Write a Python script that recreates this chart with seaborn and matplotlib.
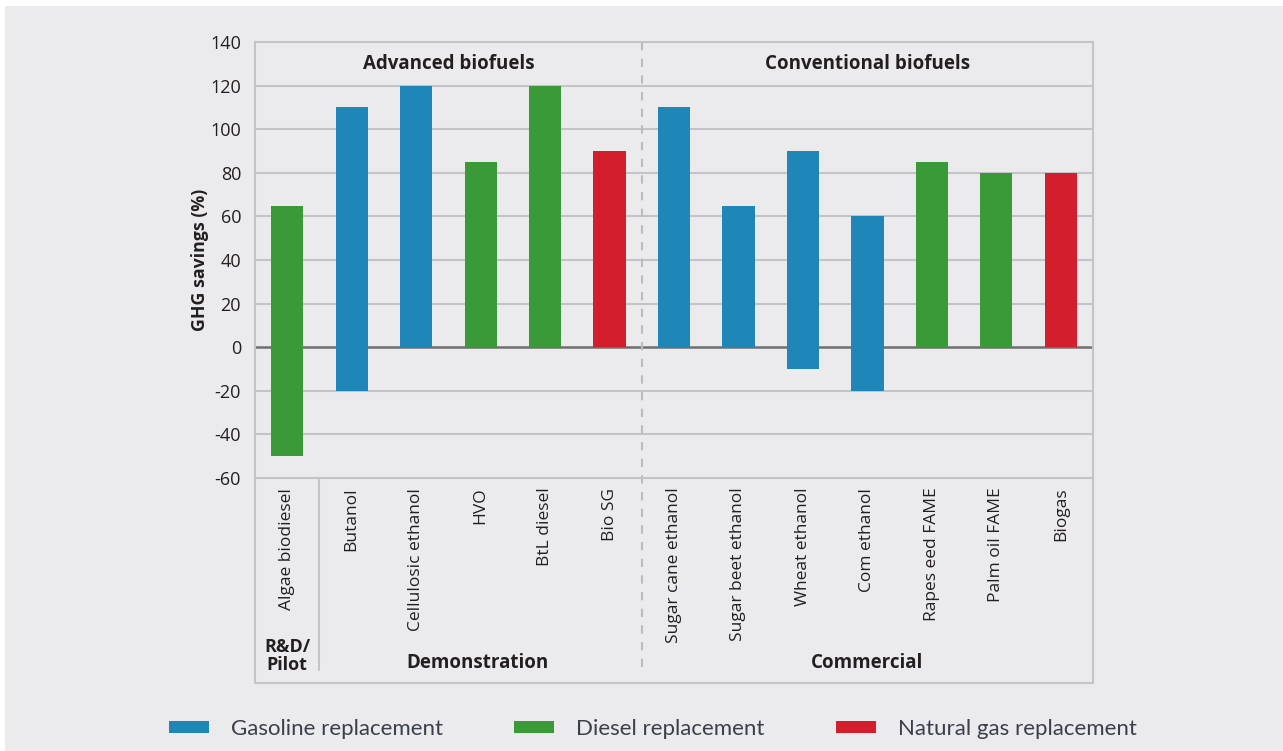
import matplotlib
matplotlib.use("Agg")
import matplotlib.pyplot as plt
from matplotlib.lines import Line2D
from matplotlib.patches import Patch, Rectangle
import pandas as pd
import seaborn as sns

# data
fuels = ["Algae biodiesel", "Butanol", "Cellulosic ethanol", "HVO", "BtL diesel",
         "Bio SG", "Sugar cane ethanol", "Sugar beet ethanol", "Wheat ethanol",
         "Corn ethanol", "Rapes eed FAME", "Palm oil FAME", "Biogas"]
fuel_type = ["Diesel", "Gasoline", "Gasoline", "Diesel", "Diesel", "Natural gas",
             "Gasoline", "Gasoline", "Gasoline", "Gasoline", "Diesel", "Diesel",
             "Natural gas"]
savings_low = [-50, -20, 0, 0, 0, 0, 0, 0, -10, -20, 0, 0, 0]
savings_high = [65, 110, 120, 85, 120, 90, 110, 65, 90, 60, 85, 80, 80]
tick_labels = ["Algae biodiesel", "Butanol", "Cellulosic ethanol", "HVO", "BtL diesel",
               "Bio SG", "Sugar cane ethanol", "Sugar beet ethanol", "Wheat ethanol",
               "Com ethanol", "Rapes eed FAME", "Palm oil FAME", "Biogas"]
groups = ["Advanced biofuels", "Conventional biofuels"]
stages = ["R&D/\nPilot", "Demonstration", "Commercial"]
legend_labels = {"Gasoline": "Gasoline replacement",
                 "Diesel": "Diesel replacement",
                 "Natural gas": "Natural gas replacement"}

palette = {"Gasoline": "#1f87b7", "Diesel": "#3a9a37", "Natural gas": "#d21e2d"}
bg = "#ebebee"
grid_c = "#c4c4c8"
text_c = "#231f20"

df = pd.DataFrame({"fuel": fuels, "type": fuel_type,
                   "low": savings_low, "high": savings_high})

sns.set_style("white")
plt.rcParams["font.family"] = ["Open Sans", "DejaVu Sans"]
plt.rcParams["axes.unicode_minus"] = False

fig = plt.figure(figsize=(12.83, 7.51), dpi=100)
fig.patch.set_facecolor("white")
fig.patches.append(Rectangle((5 / 1283, 0), 1, 1 - 6 / 751, transform=fig.transFigure,
                             facecolor=bg, edgecolor="none", zorder=-10))
ax = fig.add_axes([255 / 1283, 1 - 478 / 751, 838 / 1283, 436 / 751])
ax.set_facecolor(bg)

# floating bars: the part above zero and the part below zero
for col in ["high", "low"]:
    sns.barplot(data=df, x="fuel", y=col, hue="type", palette=palette, order=fuels,
                dodge=False, width=0.5, saturation=1, legend=False, linewidth=0,
                ax=ax, zorder=3)

ax.set_xlim(-0.5, len(fuels) - 0.5)
ax.set_ylim(-60, 140)
ax.set_yticks(range(-60, 141, 20))
for v in range(-40, 141, 20):
    ax.axhline(v, color="#6e6e70" if v == 0 else grid_c,
               lw=1.8 if v == 0 else 1.5, zorder=1)
ax.tick_params(axis="y", length=0, pad=10, labelsize=13, labelcolor=text_c)
ax.tick_params(axis="x", length=0, pad=7, labelsize=12.5, labelcolor=text_c)
ax.set_xticks(range(len(fuels)))
ax.set_xticklabels(tick_labels, rotation=90, va="top", ha="center")
ax.set_xlabel("")
ax.set_ylabel("")
for s in ax.spines.values():
    s.set_color(grid_c)
    s.set_linewidth(1.5)

bottom = -0.47
frame_kw = dict(transform=ax.transAxes, color=grid_c, lw=1.5, clip_on=False)
ax.add_line(Line2D([0, 0], [0, bottom], **frame_kw))
ax.add_line(Line2D([1, 1], [0, bottom], **frame_kw))
ax.add_line(Line2D([0, 1], [bottom, bottom], **frame_kw))

tr = ax.get_xaxis_transform()
ax.add_line(Line2D([0.5, 0.5], [0, -0.44], transform=tr, color=grid_c, lw=1.5,
                   clip_on=False))
ax.add_line(Line2D([5.5, 5.5], [1, -0.44], transform=tr, color="#bcbcc0", lw=1.5,
                   ls=(0, (4, 4)), clip_on=False, zorder=2))

ax.text(2.5, 130, groups[0], ha="center", va="center", fontsize=13.5,
        fontweight="bold", color=text_c)
ax.text(9.0, 130, groups[1], ha="center", va="center", fontsize=13.5,
        fontweight="bold", color=text_c)

ax.text(0, -0.408, stages[0], transform=tr, ha="center", va="center", fontsize=13,
        fontweight="bold", color=text_c, linespacing=1.05)
ax.text(2.95, -0.425, stages[1], transform=tr, ha="center", va="center", fontsize=13.5,
        fontweight="bold", color=text_c)
ax.text(9.0, -0.425, stages[2], transform=tr, ha="center", va="center", fontsize=13.5,
        fontweight="bold", color=text_c)

fig.text(200 / 1283, 1 - 260 / 751, "GHG savings (%)", rotation=90, ha="center",
         va="center", fontsize=12.8, fontweight="bold", color=text_c)

handles = [Patch(facecolor=palette[k], edgecolor="none") for k in legend_labels]
fig.legend(handles, list(legend_labels.values()), loc="center",
           bbox_to_anchor=(653 / 1283, 1 - 729 / 751), ncol=3, frameon=False,
           prop={"family": "Lato", "size": 16}, labelcolor="#3a3f4a",
           handlelength=1.8, handleheight=0.5, handletextpad=1.0,
           columnspacing=3.2)

fig.savefig("out.png", dpi=100, facecolor="white")
